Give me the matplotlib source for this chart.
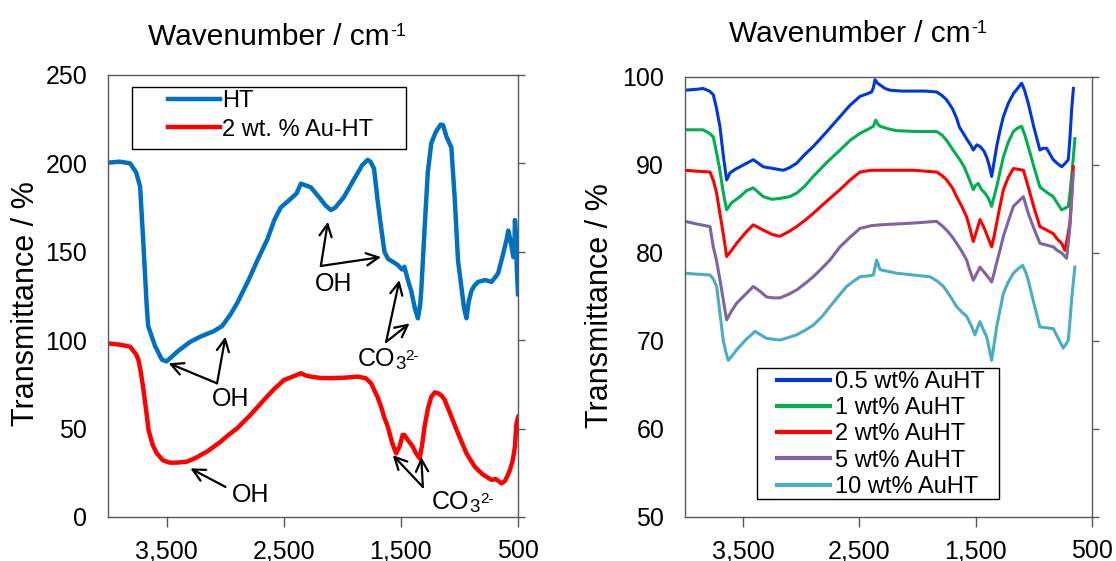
import matplotlib
matplotlib.use("Agg")
import matplotlib.pyplot as plt
from matplotlib.ticker import FixedLocator, FixedFormatter
from matplotlib.patches import Rectangle
from matplotlib.transforms import IdentityTransform

plt.rcParams['font.family'] = ['Liberation Sans', 'DejaVu Sans']

# ---------------- data: left panel ----------------
ht_x = [4000, 3900, 3811, 3760, 3726, 3700, 3670, 3657, 3600, 3540, 3500, 3400, 3300, 3212, 3100, 3026,
        2960, 2897, 2800, 2726, 2640, 2580, 2526, 2440, 2390, 2354, 2310, 2269, 2200, 2140, 2097, 2060,
        1986, 1900, 1830, 1783, 1760, 1729, 1700, 1669, 1640, 1610, 1560, 1526, 1490, 1470, 1440, 1412,
        1380, 1355, 1335, 1326, 1300, 1270, 1240, 1200, 1160, 1140, 1110, 1069, 1040, 1012, 983, 960,
        940, 920, 897, 870, 840, 780, 726, 690, 669, 630, 597, 583, 560, 540, 530, 526, 518, 510, 500]
ht_y = [200.4, 201, 200, 195, 187, 157, 120, 108, 97, 89, 88, 94, 99, 102, 105, 108,
        114, 121, 134, 145, 157, 168, 175, 180, 183, 188.5, 187.5, 186.5, 181, 176, 173.6, 175,
        181, 191, 199, 202, 201, 197, 180, 164, 150, 146, 144, 142.5, 140, 141.5, 134, 128,
        118, 112.4, 120, 128, 160, 195, 211.5, 218, 222, 221.7, 215, 209, 180, 145, 130, 118,
        112.4, 122, 128, 131, 133, 134, 133, 136, 138, 148, 157, 162, 155, 147, 155, 168, 160, 140, 126]

au_x = [4000, 3900, 3811, 3760, 3740, 3720, 3697, 3670, 3654, 3620, 3583, 3530, 3469, 3400, 3326, 3250,
        3155, 3050, 2960, 2897, 2780, 2669, 2580, 2497, 2420, 2354, 2310, 2269, 2180, 2097, 1980, 1869,
        1800, 1754, 1700, 1669, 1640, 1611, 1575, 1540, 1510, 1485, 1469, 1440, 1400, 1370, 1340, 1320,
        1298, 1270, 1240, 1210, 1183, 1150, 1126, 1070, 1012, 940, 869, 800, 726, 690, 660, 640, 610,
        585, 569, 545, 526, 515, 505, 497]
au_y = [98.2, 97.5, 96.3, 92, 88.8, 82, 71.8, 58, 49.2, 41, 36, 32, 30.7, 30.8, 31.3, 33.5,
        37, 42, 47, 50.2, 58, 66.2, 72.5, 77.5, 79.5, 81.3, 80, 79.4, 78.6, 78.5, 78.8, 79.4,
        78.5, 75.6, 68, 62.4, 56, 51, 42, 36, 40, 46.4, 46.4, 43.5, 40, 36, 33.2, 40,
        51, 61, 68, 70.5, 70, 68.5, 66.2, 57, 47.3, 36, 28.4, 24, 21, 21.5, 20, 19, 20.5,
        24, 26.6, 32, 39.8, 52, 55, 56.7]

left_labels = ["HT", "2 wt. % Au-HT"]
left_colors = ["#0070C0", "#FF0000"]

# ---------------- data: right panel ----------------
s05_x = [4000, 3900, 3845, 3790, 3757, 3730, 3700, 3670, 3642, 3613, 3570, 3527, 3470, 3413, 3370, 3327,
         3240, 3155, 3100, 3040, 2970, 2897, 2780, 2667, 2580, 2495, 2430, 2395, 2380, 2366, 2345, 2323,
         2280, 2237, 2137, 2037, 1936, 1836, 1790, 1750, 1700, 1664, 1640, 1607, 1570, 1540, 1521, 1490,
         1463, 1430, 1406, 1385, 1363, 1340, 1320, 1290, 1262, 1220, 1176, 1140, 1105, 1080, 1048, 1000,
         948, 920, 890, 860, 833, 800, 761, 730, 704, 690, 675, 660]
s05_y = [98.5, 98.6, 98.7, 98.4, 98.0, 96.5, 94.4, 91, 88.3, 89.1, 89.5, 89.8, 90.2, 90.6, 90.2, 89.8,
         89.6, 89.4, 89.7, 90.2, 91.2, 92.1, 93.8, 95.5, 96.8, 97.8, 98.1, 98.3, 98.8, 99.7, 99.3, 99.1,
         98.7, 98.5, 98.4, 98.4, 98.4, 98.3, 97.9, 97.4, 96.4, 95.3, 94.3, 93.6, 92.8, 92.2, 91.7, 92.3,
         92.1, 91.6, 90.9, 90, 88.7, 90.5, 92.1, 94, 95.5, 97, 98.1, 98.7, 99.3, 98.5, 97.0, 94.3,
         91.7, 91.9, 91.9, 91.2, 90.6, 90.2, 89.8, 90.2, 90.6, 93, 96.3, 98.7]

s1_x = [4000, 3900, 3845, 3790, 3757, 3730, 3700, 3670, 3642, 3600, 3527, 3470, 3413, 3370, 3327, 3250,
        3184, 3100, 3040, 2970, 2897, 2780, 2667, 2580, 2495, 2420, 2380, 2360, 2340, 2323, 2250, 2180,
        2000, 1836, 1790, 1750, 1690, 1636, 1600, 1578, 1550, 1521, 1500, 1478, 1450, 1420, 1390, 1363,
        1340, 1320, 1290, 1262, 1220, 1176, 1140, 1105, 1080, 1048, 1000, 948, 890, 833, 800, 761,
        730, 704, 690, 675, 660, 647]
s1_y = [94.0, 94.0, 94.0, 93.6, 93.2, 91.5, 89.4, 86.8, 84.9, 85.7, 86.4, 87.1, 87.4, 86.9, 86.4, 86.1,
        86.2, 86.4, 86.8, 87.6, 88.7, 90.3, 91.7, 92.8, 93.6, 94.1, 94.4, 95.1, 94.6, 94.4, 94.1, 93.9,
        93.8, 93.8, 93.4, 92.8, 91.6, 90.6, 89.8, 89.1, 88.2, 87.2, 87.7, 87.9, 87.2, 86.8, 86.2, 85.3,
        86.5, 87.5, 89.3, 90.9, 92.6, 93.8, 94.2, 94.4, 93.5, 92.1, 89.8, 87.5, 86.9, 86.4, 85.7, 84.9,
        85.1, 85.3, 86.7, 88.7, 91, 93.0]

s2_x = [4000, 3900, 3785, 3755, 3728, 3700, 3671, 3642, 3600, 3556, 3480, 3413, 3370, 3327, 3250, 3184,
        3110, 3040, 2970, 2897, 2780, 2667, 2580, 2495, 2400, 2323, 2180, 2037, 1936, 1836, 1790, 1750,
        1700, 1664, 1620, 1578, 1550, 1521, 1490, 1463, 1440, 1420, 1390, 1363, 1340, 1320, 1290, 1262,
        1220, 1176, 1130, 1090, 1070, 1048, 1000, 948, 890, 833, 800, 761, 733, 710, 690, 675, 661]
s2_y = [89.4, 89.3, 89.2, 88.2, 86.8, 84.5, 82.2, 79.6, 80.3, 81.1, 82.3, 83.2, 82.9, 82.6, 82.1, 81.9,
        82.4, 83.0, 83.7, 84.5, 85.9, 87.2, 88.3, 89.2, 89.4, 89.4, 89.4, 89.4, 89.3, 89.2, 88.8, 88.3,
        87.4, 86.4, 85.3, 84.1, 82.8, 81.3, 82.6, 83.8, 83.2, 82.6, 81.6, 80.7, 82.0, 83.4, 85.4, 87.2,
        88.6, 89.6, 89.5, 89.4, 88.5, 87.5, 85.2, 83.0, 82.6, 82.2, 81.6, 81.1, 80.3, 81.8, 83.4, 86.5, 89.8]

s5_x = [4000, 3900, 3785, 3757, 3730, 3700, 3671, 3642, 3600, 3556, 3480, 3413, 3350, 3298, 3240, 3184,
        3110, 3040, 2970, 2897, 2820, 2754, 2667, 2580, 2495, 2400, 2323, 2180, 2037, 1936, 1836, 1790,
        1750, 1700, 1664, 1620, 1578, 1550, 1521, 1490, 1463, 1440, 1420, 1390, 1363, 1340, 1320, 1290,
        1262, 1220, 1176, 1130, 1090, 1070, 1048, 1000, 948, 890, 833, 800, 761, 740, 718, 705, 690,
        675, 661]
s5_y = [83.6, 83.3, 83.0, 80.7, 79.2, 77, 74.7, 72.4, 73.4, 74.3, 75.3, 76.2, 75.6, 75.0, 74.9, 74.9,
        75.3, 75.8, 76.5, 77.3, 78.3, 79.2, 80.7, 81.8, 82.8, 83.1, 83.2, 83.3, 83.4, 83.5, 83.6, 83.1,
        82.6, 81.8, 81.1, 80.2, 79.2, 78, 76.9, 77.7, 78.4, 78, 77.7, 77.2, 76.7, 77.8, 78.9, 80.4,
        81.9, 83.6, 85.3, 85.9, 86.4, 85.5, 84.5, 82.8, 81.1, 80.9, 80.7, 80.3, 80.0, 79.7, 79.4, 81, 83.0,
        86, 89.1]

s10_x = [4000, 3900, 3785, 3755, 3728, 3700, 3671, 3650, 3628, 3590, 3556, 3480, 3398, 3350, 3298, 3240,
         3184, 3110, 3040, 2970, 2897, 2820, 2754, 2680, 2610, 2550, 2495, 2420, 2380, 2352, 2335, 2323,
         2250, 2180, 2040, 1893, 1830, 1778, 1720, 1664, 1620, 1578, 1540, 1506, 1485, 1463, 1435, 1406,
         1385, 1363, 1340, 1320, 1290, 1262, 1220, 1176, 1136, 1096, 1070, 1048, 1000, 948, 890, 833,
         790, 747, 725, 704, 690, 675, 660, 647]
s10_y = [77.7, 77.6, 77.5, 77, 76.2, 73.2, 70.1, 68.8, 67.8, 68.4, 69.0, 70.1, 71.1, 70.7, 70.3, 70.2,
         70.1, 70.4, 70.7, 71.2, 71.8, 72.8, 73.9, 75.1, 76.2, 76.8, 77.3, 77.4, 77.5, 79.2, 78.6, 78.1,
         77.9, 77.7, 77.5, 77.3, 76.8, 76.2, 75.1, 73.9, 73.3, 72.8, 71.8, 70.7, 71.5, 72.2, 71.3, 70.5,
         69.2, 67.8, 69.8, 71.6, 73.6, 75.4, 76.7, 77.7, 78.2, 78.6, 77.8, 76.9, 74.3, 71.6, 71.5, 71.4,
         70.3, 69.2, 69.6, 70.1, 72.2, 74.7, 76.8, 78.4]

right_labels = ["0.5 wt% AuHT", "1 wt% AuHT", "2 wt% AuHT", "5 wt% AuHT", "10 wt% AuHT"]
right_colors = ["#0038D8", "#00B050", "#FF0000", "#8064A2", "#4BACC6"]

x_ticks = [3500, 2500, 1500, 500]
x_ticklabels = ["3,500", "2,500", "1,500", "500"]
left_yticks = [0, 50, 100, 150, 200, 250]
right_yticks = [50, 60, 70, 80, 90, 100]

# OH annotations: (text centre, arrow base, arrow tips)
oh_notes = [
    ((2071, 132), (2183, 142), [(2123, 167), (1669, 147)]),
    ((2954, 67), (3069, 75.6), [(3483, 87), (2997, 102)]),
    ((2783, 12.4), (2997, 17), [(3297, 27.5)]),
]
# CO3 2- annotations: (text left/baseline, arrow base, arrow tips)
co3_notes = [
    ((1869, 85.4), (1626, 99), [(1512, 134), (1426, 109.5)]),
    ((1234, 4.4), (1312, 17), [(1569, 35), (1326, 34)]),
]

# ---------------- figure ----------------
fig = plt.figure(figsize=(11.16, 5.61), dpi=100)
axL = fig.add_axes([108/1116, 1-517/561, 410/1116, 442/561])
axR = fig.add_axes([685/1116, 1-517/561, 407/1116, 440/561])

def style(ax, yticks):
    ax.set_xlim(4000, 500)
    ax.set_ylim(yticks[0], yticks[-1])
    ax.xaxis.set_major_locator(FixedLocator(x_ticks))
    ax.xaxis.set_major_formatter(FixedFormatter(x_ticklabels))
    ax.set_yticks(yticks)
    ax.tick_params(axis='x', direction='out', length=7, width=1, pad=9,
                   labelsize=18, colors='#595959', labelcolor='black', top=False)
    ax.tick_params(axis='y', direction='out', length=5, width=1, pad=10,
                   left=False, right=True, labelleft=True, labelright=False,
                   labelsize=18, colors='#595959', labelcolor='black')
    for s in ax.spines.values():
        s.set_color('#595959')
        s.set_linewidth(1)

style(axL, left_yticks)
style(axR, right_yticks)

axL.plot(ht_x, ht_y, color=left_colors[0], lw=3.2, label=left_labels[0], solid_joinstyle='round')
axL.plot(au_x, au_y, color=left_colors[1], lw=3.2, label=left_labels[1], solid_joinstyle='round')

def arrows(ax, base, tips):
    for tip in tips:
        ax.annotate('', xy=tip, xytext=base,
                    arrowprops=dict(arrowstyle='->', lw=1.6, color='black',
                                    shrinkA=0, shrinkB=0, mutation_scale=22))

for txy, base, tips in oh_notes:
    arrows(axL, base, tips)
    axL.text(txy[0], txy[1], "OH", fontsize=18, ha='center', va='center')

co_texts = []
for txy, base, tips in co3_notes:
    arrows(axL, base, tips)
    t = axL.text(txy[0], txy[1], "CO", fontsize=18, ha='left', va='baseline')
    co_texts.append((t, axL.transData.transform(txy)[1]))

# legends with Excel-like boxes
axL.add_patch(Rectangle((0.0578, 0.8319), 0.669, 0.1403, transform=axL.transAxes,
                        facecolor='white', edgecolor='black', lw=1, zorder=4))
legL = axL.legend(loc='upper left', bbox_to_anchor=(60/410, (517-90)/442), fontsize=17,
                  frameon=False, handlelength=2.2, handletextpad=0.1, labelspacing=0.28,
                  borderpad=0, borderaxespad=0)
legL.set_zorder(5)

series = [(s05_x, s05_y), (s1_x, s1_y), (s2_x, s2_y), (s5_x, s5_y), (s10_x, s10_y)]
for (xs, ys), lab, col in zip(series, right_labels, right_colors):
    axR.plot(xs, ys, color=col, lw=2.2, label=lab, solid_joinstyle='round')

axR.add_patch(Rectangle((0.1762, 0.0409), 0.5953, 0.2971, transform=axR.transAxes,
                        facecolor='white', edgecolor='black', lw=1, zorder=4))
legR = axR.legend(loc='upper left', bbox_to_anchor=(91.7/407, (517-371)/440), fontsize=17,
                  frameon=False, handlelength=2.26, handletextpad=0.2, labelspacing=0.18,
                  borderpad=0, borderaxespad=0)
legR.set_zorder(5)
for l in legR.get_lines():
    l.set_linewidth(3)

titleL = fig.text(148/1116, 1-45/561, 'Wavenumber / cm', fontsize=21.5, ha='left', va='baseline')
titleR = fig.text(729/1116, 1-42/561, 'Wavenumber / cm', fontsize=21.5, ha='left', va='baseline')
fig.text(26/1116, 1-304/561, 'Transmittance / %', fontsize=22, rotation=90, ha='center', va='center')
fig.text(600/1116, 1-306/561, 'Transmittance / %', fontsize=22, rotation=90, ha='center', va='center')

# superscripts / subscripts placed next to their base texts
fig.canvas.draw()
rend = fig.canvas.get_renderer()
ident = IdentityTransform()

def after(artist, baseline_px, txt, fs, dx, dy):
    bb = artist.get_window_extent(rend)
    return fig.text(bb.x1 + dx, baseline_px + dy, txt, fontsize=fs, ha='left',
                    va='baseline', transform=ident)

for t in (titleL, titleR):
    base_y = fig.transFigure.transform(t.get_position())[1]
    after(t, base_y, '-1', 13, 1, 9)

for t, base_y in co_texts:
    s3 = after(t, base_y, '3', 13.5, 0, -3)
    after(s3, base_y, '2-', 11, 0, 6)

fig.savefig('out.png', dpi=100)
